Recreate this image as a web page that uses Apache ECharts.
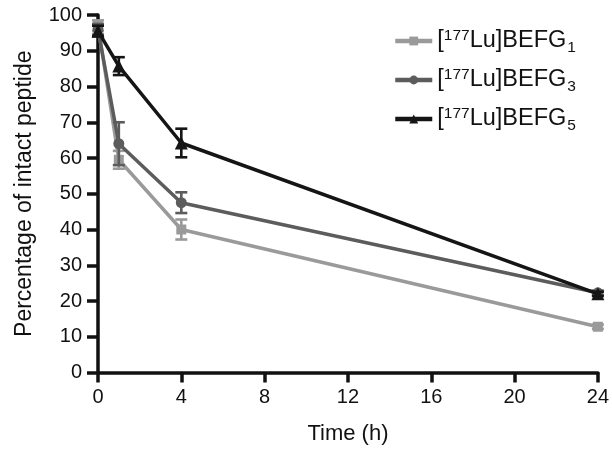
<!DOCTYPE html>
<html><head><meta charset="utf-8">
<script src="https://cdn.jsdelivr.net/npm/echarts@6/dist/echarts.min.js"></script>
<style>html,body{margin:0;padding:0;background:#fff}#c{width:612px;height:452px}</style>
</head><body><div id="c"></div>
<script>
const times = [0, 1, 4, 24];
const names = ['BEFG1', 'BEFG3', 'BEFG5'];
const subs = ['1', '3', '5'];
const mean1 = [97, 59.5, 40, 12.8];
const err1  = [1.5, 2.5, 2.8, 0.6];
const mean3 = [96, 64, 47.5, 22.3];
const err3  = [1.5, 6, 2.9, 0.6];
const mean5 = [95.5, 85.7, 64.2, 22];
const err5  = [1.5, 2.5, 4, 0.6];
const xTicks = [0, 4, 8, 12, 16, 20, 24];
const yTicks = [0, 10, 20, 30, 40, 50, 60, 70, 80, 90, 100];

const colors = ['#9a9a9a', '#5c5c5c', '#151515'];
const symbols = ['rect', 'circle', 'triangle'];
const symSizes = [10, 11, 13];
const means = [mean1, mean3, mean5];
const errs = [err1, err3, err5];
const FONT = 'Liberation Sans, Arial, Helvetica, sans-serif';

const series = [];
means.forEach((m, i) => {
  const errData = times.map((t, k) => [t, m[k] - errs[i][k], m[k] + errs[i][k]]);
  series.push({
    type: 'custom', name: 'err' + i, z: 2 + i * 2,
    data: errData,
    renderItem: (params, api) => {
      const x = api.value(0), lo = api.value(1), hi = api.value(2);
      const a = api.coord([x, lo]), b = api.coord([x, hi]);
      const w = 6;
      const st = { stroke: colors[i], lineWidth: 2.6 };
      return { type: 'group', children: [
        { type: 'line', shape: { x1: a[0], y1: a[1], x2: b[0], y2: b[1] }, style: st },
        { type: 'line', shape: { x1: a[0] - w, y1: a[1], x2: a[0] + w, y2: a[1] }, style: st },
        { type: 'line', shape: { x1: b[0] - w, y1: b[1], x2: b[0] + w, y2: b[1] }, style: st }
      ]};
    },
    encode: { x: 0, y: [1, 2] },
    silent: true
  });
  series.push({
    type: 'line', name: names[i], z: 3 + i * 2,
    data: times.map((t, k) => [t, m[k]]),
    symbol: symbols[i], symbolSize: symSizes[i], showAllSymbol: true,
    lineStyle: { color: colors[i], width: 3.5 },
    itemStyle: { color: colors[i] },
    animation: false
  });
});

const chart = echarts.init(document.getElementById('c'));
chart.setOption({
  animation: false,
  backgroundColor: '#fff',
  grid: { left: 98, right: 13, top: 15, bottom: 79.5, containLabel: false },
  legend: {
    data: names, orient: 'vertical', left: 388, top: 21,
    itemWidth: 37, itemHeight: 11, itemGap: 9,
    lineStyle: { width: 4.5 },
    formatter: (n) => '{n|[}{s|177}{n|Lu]BEFG}{b|' + subs[names.indexOf(n)] + '}',
    textStyle: {
      fontFamily: FONT, color: '#111', lineHeight: 30,
      rich: {
        n: { fontSize: 23.5, fontFamily: FONT, color: '#111', lineHeight: 30 },
        s: { fontSize: 15.5, fontFamily: FONT, color: '#111', lineHeight: 15, verticalAlign: 'top', padding: [2, 0, 0, 0] },
        b: { fontSize: 15.5, fontFamily: FONT, color: '#111', lineHeight: 15, verticalAlign: 'bottom', padding: [0, 0, 0, 1] }
      }
    }
  },
  xAxis: {
    type: 'value', min: 0, max: 24, interval: 4,
    name: 'Time (h)', nameLocation: 'middle', nameGap: 50,
    nameTextStyle: { fontFamily: FONT, fontSize: 22, color: '#111' },
    axisLine: { show: true, lineStyle: { color: '#111', width: 3.5 } },
    axisTick: { show: true, length: 10, lineStyle: { color: '#111', width: 3.5 } },
    axisLabel: { margin: 15, fontFamily: FONT, fontSize: 20, color: '#111',
      formatter: v => xTicks.includes(v) ? String(v) : '' },
    splitLine: { show: false }
  },
  yAxis: {
    type: 'value', min: 0, max: 100, interval: 10,
    name: 'Percentage of intact peptide', nameLocation: 'middle', nameGap: 62,
    nameTextStyle: { fontFamily: FONT, fontSize: 23, color: '#111' },
    axisLine: { show: true, lineStyle: { color: '#111', width: 3.5 } },
    axisTick: { show: true, length: 11, lineStyle: { color: '#111', width: 3.5 } },
    axisLabel: { margin: 16, fontFamily: FONT, fontSize: 20, color: '#111',
      formatter: v => yTicks.includes(v) ? String(v) : '' },
    splitLine: { show: false }
  },
  series: series
});
</script>
</body></html>
